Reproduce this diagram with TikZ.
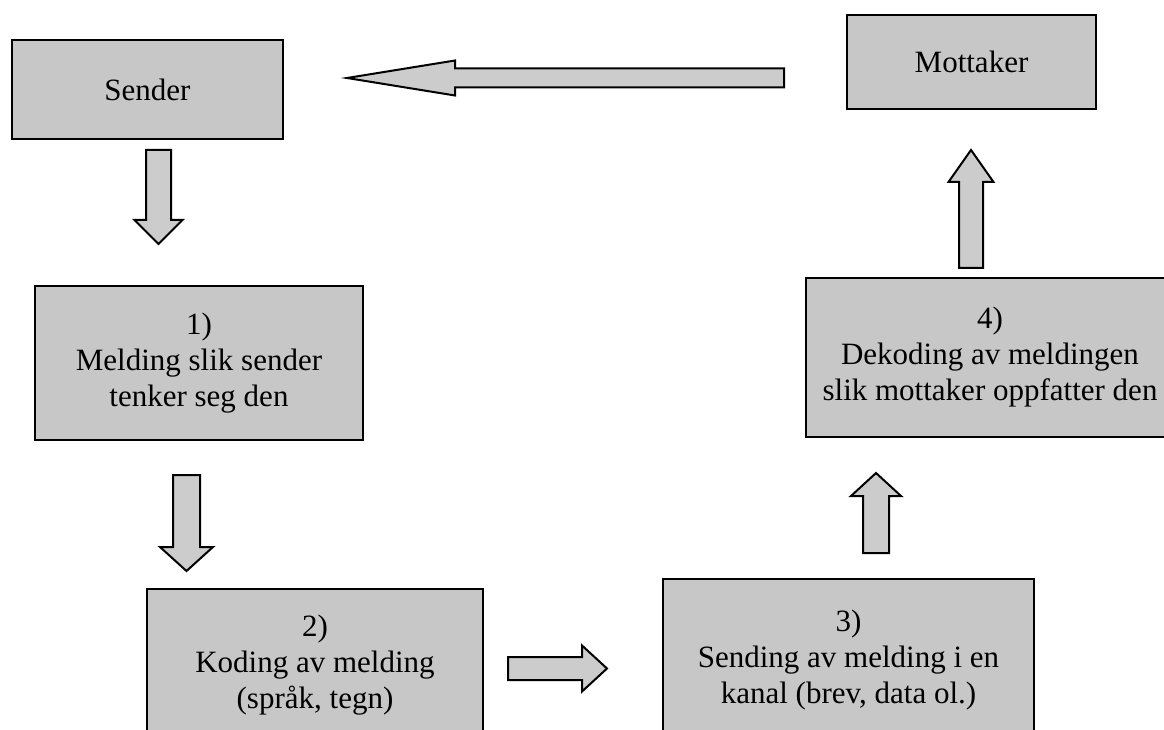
\documentclass[tikz,border=0pt]{standalone}
\usepackage{fontspec}
\setmainfont{Liberation Serif}
\usepackage{tikz}

\tikzset{
  pics/fatarrow/.style args={#1/#2/#3/#4}{code={
    % length / shaft half width / head half width / head length
    \draw[arrowbody] (0,-#2) -- (#1-#4,-#2) -- (#1-#4,-#3) -- (#1,0)
      -- (#1-#4,#3) -- (#1-#4,#2) -- (0,#2) -- cycle;
  }}
}

\begin{document}
\begin{tikzpicture}
	 [x=1pt,y=1pt,font=\fontsize{31}{36}\selectfont,
	  box/.style={draw=black,line width=2pt,fill=black!22,align=center,inner sep=0pt},
	  arrowbody/.style={draw=black,line width=2pt,fill=black!20,line join=miter}]
	\clip (0,0) rectangle (1164,729);

	  \node (sender)[box,minimum width=271,minimum height=99] at (147.5,639.5) {Sender};
	  \node (mottaker)[box,minimum width=249,minimum height=94] at (971.5,667) {Mottaker};

	  \node (m1)[box,minimum width=328,minimum height=154] at (199,366)
	    {1)\\Melding slik sender\\tenker seg den};
	  \node (m2)[box,minimum width=336,minimum height=152] at (315,64)
	    {2)\\Koding av melding\\(språk, tegn)};
	  \node (m3)[box,minimum width=371,minimum height=162] at (848.5,69)
	    {3)\\Sending av melding i en\\kanal (brev, data ol.)};
	  \node (m4)[box,minimum width=368,minimum height=159] at (990,371.5)
	    {4)\\Dekoding av meldingen\\slik mottaker oppfatter den};

	% block arrows between the boxes
	\pic[rotate=-90] at (158.5,579) {fatarrow=94/12.5/24/24};
	\pic[rotate=-90] at (186.5,254) {fatarrow=96/13.5/26.5/24};
	\pic at (508,60.5) {fatarrow=99/11.5/23/25};
	\pic[rotate=90] at (876,176) {fatarrow=80/13/25/23};
	\pic[rotate=90] at (971,461) {fatarrow=118/12/22.5/32};
	\pic[rotate=180] at (784,651) {fatarrow=437/9.5/17.5/108};

\end{tikzpicture}
\end{document}
